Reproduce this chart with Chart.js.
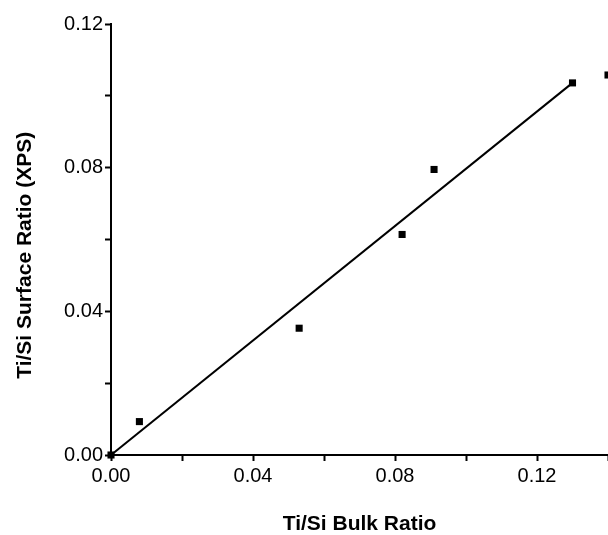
<!DOCTYPE html>
<html>
<head>
<meta charset="utf-8">
<script src="https://cdn.jsdelivr.net/npm/chart.js@4"></script>
<style>
  html, body { margin: 0; padding: 0; background: #fff; overflow: hidden; }
</style>
</head>
<body>
<canvas id="myChart" width="608" height="535"></canvas>
<script>
// measured points (Ti/Si bulk vs surface by XPS)
const bulkRatio = [0, 0.008, 0.053, 0.082, 0.091, 0.13, 0.14];
const surfaceRatio = [0, 0.0093, 0.0353, 0.0614, 0.0795, 0.1036, 0.1058];
// straight line drawn through the data
const lineX = [0, 0.13];
const lineY = [0, 0.1036];
const xTitle = 'Ti/Si Bulk Ratio';
// trailing en spaces push the rotated title a little lower, like the original
const yTitle = 'Ti/Si Surface Ratio (XPS)\u2002\u2002\u2002';

const fontFamily = '"Liberation Sans", Arial, sans-serif';

function everyOther(value, index) {
    return index % 2 === 0 ? value.toFixed(2) : '';
}

const ctx = document.getElementById('myChart').getContext('2d');
const myChart = new Chart(ctx, {
    type: 'scatter',
    data: {
        datasets: [{
            data: bulkRatio.map((x, i) => ({ x: x, y: surfaceRatio[i] })),
            pointStyle: 'rect',
            pointRadius: 5,
            pointBorderWidth: 0,
            backgroundColor: '#000',
            borderColor: '#000',
            clip: false
        }, {
            type: 'line',
            data: lineX.map((x, i) => ({ x: x, y: lineY[i] })),
            borderColor: '#000',
            borderWidth: 2,
            pointRadius: 0,
            fill: false
        }]
    },
    options: {
        responsive: false,
        animation: false,
        devicePixelRatio: 1,
        layout: {
            autoPadding: false,
            padding: { top: 24, right: 0, left: 0, bottom: 0 }
        },
        plugins: {
            legend: { display: false },
            tooltip: { enabled: false }
        },
        scales: {
            x: {
                type: 'linear',
                min: 0,
                max: 0.14,
                afterFit: function (scale) {
                    scale.height = 80;
                    // let the axis run right up to the edge of the picture
                    scale.paddingRight = 0;
                },
                ticks: {
                    stepSize: 0.02,
                    autoSkip: false,
                    maxRotation: 0,
                    padding: 3,
                    color: '#000',
                    font: { family: fontFamily, size: 20 },
                    callback: everyOther
                },
                grid: {
                    drawOnChartArea: false,
                    drawTicks: true,
                    tickLength: 6,
                    tickWidth: 2,
                    tickColor: '#000'
                },
                border: { display: true, color: '#000', width: 2 },
                title: {
                    display: true,
                    text: xTitle,
                    color: '#000',
                    font: { family: fontFamily, size: 21, weight: 'bold', lineHeight: 1.0 },
                    padding: { top: 0, bottom: 0 }
                }
            },
            y: {
                type: 'linear',
                min: 0,
                max: 0.12,
                afterFit: function (scale) { scale.width = 111; },
                ticks: {
                    stepSize: 0.02,
                    autoSkip: false,
                    padding: 2,
                    color: '#000',
                    font: { family: fontFamily, size: 20 },
                    callback: everyOther
                },
                grid: {
                    drawOnChartArea: false,
                    drawTicks: true,
                    tickLength: 6,
                    tickWidth: 2,
                    tickColor: '#000'
                },
                border: { display: true, color: '#000', width: 2 },
                title: {
                    display: true,
                    text: yTitle,
                    color: '#000',
                    font: { family: fontFamily, size: 21, weight: 'bold', lineHeight: 1.2 },
                    padding: { top: 13, bottom: 0 }
                }
            }
        }
    }
});
</script>
</body>
</html>
